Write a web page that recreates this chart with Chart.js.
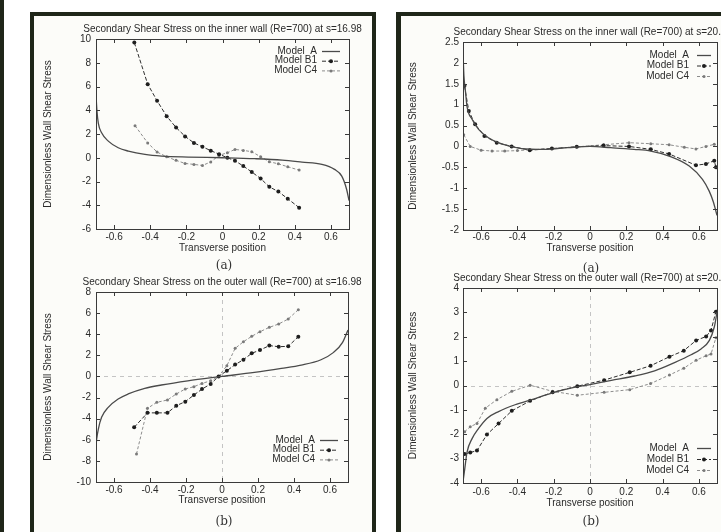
<!DOCTYPE html>
<html>
<head>
<meta charset="utf-8">
<title>Secondary Shear Stress</title>
<script src="https://cdn.jsdelivr.net/npm/chart.js@4.4.0/dist/chart.umd.min.js"></script>
<style>
  body { margin: 0; width: 721px; height: 532px; position: relative; overflow: hidden; background: #fff;
         font-family: "Liberation Sans", Arial, sans-serif; }
  .bar { position: absolute; background: #1f2619; }
  .panel { position: absolute; background: #fcfcf9; }
  canvas { position: absolute; }
  .cap { position: absolute; transform: translate(-50%, -50%); font-family: "DejaVu Serif", "Liberation Serif", serif;
         font-size: 12px; color: #333; }
</style>
</head>
<body>
<div class="panel" style="left:34px;top:16px;width:338px;height:516px"></div>
<div class="panel" style="left:401px;top:16px;width:320px;height:516px"></div>
<div class="bar" style="left:0;top:0;width:4px;height:532px"></div>
<div class="bar" style="left:30px;top:12px;width:4px;height:520px"></div>
<div class="bar" style="left:30px;top:12px;width:346px;height:4px"></div>
<div class="bar" style="left:372px;top:12px;width:4px;height:520px"></div>
<div class="bar" style="left:396px;top:12px;width:5px;height:520px"></div>
<div class="bar" style="left:396px;top:12px;width:325px;height:4px"></div>

<canvas id="chartIn16" width="334" height="240" style="left:36px;top:18px"></canvas>
<canvas id="chartOut16" width="334" height="240" style="left:36px;top:271px"></canvas>
<canvas id="chartIn20" width="319" height="240" style="left:402px;top:18px"></canvas>
<canvas id="chartOut20" width="319" height="244" style="left:402px;top:266px"></canvas>

<div class="cap" style="left:224px;top:265px">(a)</div>
<div class="cap" style="left:224px;top:521px">(b)</div>
<div class="cap" style="left:591px;top:268px">(a)</div>
<div class="cap" style="left:591px;top:521px">(b)</div>

<script>
// --- Datos ---
const xTicks = [-0.6, -0.4, -0.2, 0, 0.2, 0.4, 0.6];

// inner wall, s=16.98
const in16Ticks = [-6, -4, -2, 0, 2, 4, 6, 8, 10];
const in16Ax = [-0.700, -0.695, -0.687, -0.669, -0.632, -0.577, -0.521, -0.429, -0.337, -0.19, 0, 0.18, 0.33, 0.44, 0.55, 0.62, 0.66, 0.687, 0.700];
const in16Ay = [5.3, 4.0, 2.9, 2.1, 1.4, 0.84, 0.56, 0.28, 0.14, 0.06, 0, -0.08, -0.2, -0.37, -0.56, -0.98, -1.55, -2.67, -3.6];
const in16Bx = [-0.488, -0.414, -0.362, -0.309, -0.257, -0.207, -0.158, -0.111, -0.065, -0.019, 0.027, 0.069, 0.115, 0.162, 0.211, 0.259, 0.309, 0.361, 0.424];
const in16By = [9.7, 6.2, 4.8, 3.5, 2.55, 1.8, 1.25, 0.92, 0.6, 0.3, 0.0, -0.25, -0.7, -1.2, -1.75, -2.45, -2.85, -3.45, -4.2];
const in16Cx = [-0.484, -0.414, -0.362, -0.309, -0.257, -0.207, -0.158, -0.111, -0.065, -0.019, 0.027, 0.069, 0.115, 0.162, 0.211, 0.259, 0.309, 0.361, 0.424];
const in16Cy = [2.7, 1.25, 0.48, 0.08, -0.22, -0.48, -0.56, -0.65, -0.35, 0.2, 0.42, 0.7, 0.62, 0.51, 0.08, -0.34, -0.51, -0.76, -1.04];

// outer wall, s=16.98
const out16Ticks = [-10, -8, -6, -4, -2, 0, 2, 4, 6, 8];
const out16Ax = [-0.700, -0.696, -0.687, -0.669, -0.632, -0.577, -0.521, -0.429, -0.337, -0.19, 0, 0.18, 0.33, 0.44, 0.55, 0.62, 0.669, 0.700];
const out16Ay = [-6.6, -5.9, -4.98, -3.87, -2.93, -2.14, -1.66, -1.13, -0.81, -0.41, 0, 0.38, 0.76, 1.07, 1.58, 2.28, 3.2, 4.4];
const out16Bx = [-0.488, -0.414, -0.362, -0.303, -0.254, -0.204, -0.156, -0.111, -0.063, -0.019, 0.027, 0.073, 0.119, 0.165, 0.211, 0.263, 0.315, 0.368, 0.424];
const out16By = [-4.82, -3.45, -3.45, -3.45, -2.77, -2.39, -1.76, -1.2, -0.71, 0, 0.54, 1.12, 1.59, 2.19, 2.5, 2.92, 2.82, 2.85, 3.77];
const out16Cx = [-0.475, -0.414, -0.362, -0.303, -0.254, -0.204, -0.156, -0.111, -0.063, -0.019, 0.027, 0.073, 0.119, 0.165, 0.211, 0.263, 0.315, 0.368, 0.424];
const out16Cy = [-7.35, -3.02, -2.45, -2.23, -1.66, -1.19, -0.97, -0.66, -0.41, 0, 1.02, 2.66, 3.29, 3.8, 4.24, 4.65, 4.97, 5.44, 6.33];

// inner wall, s=20.4
const in20Ticks = [-2, -1.5, -1, -0.5, 0, 0.5, 1, 1.5, 2, 2.5];
const in20Ax = [-0.700, -0.695, -0.686, -0.678, -0.65, -0.614, -0.56, -0.487, -0.377, -0.25, -0.122, 0, 0.115, 0.243, 0.335, 0.436, 0.547, 0.62, 0.657, 0.68, 0.700];
const in20Ay = [2.25, 1.7, 1.3, 0.96, 0.65, 0.41, 0.21, 0.06, -0.05, -0.07, -0.03, 0, -0.03, -0.07, -0.11, -0.23, -0.47, -0.79, -1.07, -1.33, -1.65];
const in20Bx = [-0.692, -0.668, -0.633, -0.582, -0.514, -0.432, -0.332, -0.21, -0.073, 0.075, 0.215, 0.335, 0.436, 0.584, 0.639, 0.685, 0.694];
const in20By = [1.45, 0.85, 0.53, 0.25, 0.09, 0.0, -0.09, -0.05, -0.01, 0.02, 0.0, -0.07, -0.18, -0.45, -0.42, -0.34, -0.5];
const in20Cx = [-0.696, -0.66, -0.6, -0.54, -0.47, -0.4, -0.332, -0.21, -0.073, 0.075, 0.215, 0.335, 0.436, 0.52, 0.584, 0.639, 0.685];
const in20Cy = [0.28, 0.0, -0.09, -0.11, -0.11, -0.1, -0.08, -0.05, -0.01, 0.04, 0.09, 0.065, 0.04, -0.02, -0.06, 0.0, 0.05];

// outer wall, s=20.4
const out20Ticks = [-4, -3, -2, -1, 0, 1, 2, 3, 4];
const out20Ax = [-0.700, -0.69, -0.678, -0.65, -0.614, -0.568, -0.504, -0.413, -0.321, -0.211, -0.1, 0, 0.118, 0.246, 0.356, 0.466, 0.557, 0.612, 0.658, 0.685, 0.700];
const out20Ay = [-3.95, -3.4, -2.74, -2.18, -1.76, -1.35, -1.07, -0.79, -0.58, -0.31, -0.1, 0.04, 0.21, 0.39, 0.6, 0.94, 1.26, 1.5, 1.85, 2.4, 3.0];
const out20Bx = [-0.691, -0.66, -0.623, -0.568, -0.504, -0.431, -0.33, -0.206, -0.07, 0.078, 0.219, 0.334, 0.438, 0.517, 0.585, 0.64, 0.667, 0.694];
const out20By = [-2.81, -2.75, -2.67, -2.01, -1.56, -1.04, -0.63, -0.28, -0.03, 0.22, 0.54, 0.81, 1.18, 1.43, 1.85, 2.01, 2.26, 3.03];
const out20Cx = [-0.691, -0.66, -0.623, -0.577, -0.513, -0.431, -0.33, -0.206, -0.07, 0.078, 0.219, 0.334, 0.438, 0.517, 0.585, 0.64, 0.667, 0.694];
const out20Cy = [-1.9, -1.69, -1.56, -0.93, -0.58, -0.24, 0.01, -0.24, -0.4, -0.28, -0.17, 0.08, 0.43, 0.71, 1.04, 1.22, 1.29, 1.96];

// --- Estilos ---
const TXT = '#2a2a2a';
const FONT = { family: '"Liberation Sans", Arial, sans-serif', size: 10 };
const COL_A = '#4a4a4a';
const COL_B = '#2e2e2e';
const COL_C = '#8c8c8c';

function pts(xs, ys) {
    return xs.map((x, i) => ({ x: x, y: ys[i] }));
}

// caja estilo gnuplot: borde, ticks hacia adentro, ejes cero, leyenda y titulo
const gnuplotBox = {
    id: 'gnuplotBox',
    beforeDatasetsDraw(chart, args, opts) {
        if (!opts.zeroAxes) return;
        const { ctx, chartArea: a, scales: { x, y } } = chart;
        ctx.save();
        ctx.strokeStyle = '#c4c4c4';
        ctx.lineWidth = 1;
        ctx.setLineDash([4, 4]);
        const y0 = Math.round(y.getPixelForValue(0)) + 0.5;
        const x0 = Math.round(x.getPixelForValue(0)) + 0.5;
        ctx.beginPath();
        ctx.moveTo(a.left, y0); ctx.lineTo(a.right, y0);
        ctx.moveTo(x0, a.top); ctx.lineTo(x0, a.bottom);
        ctx.stroke();
        ctx.restore();
    },
    afterDatasetsDraw(chart) {
        const { ctx, chartArea: a, scales: { x, y } } = chart;
        ctx.save();
        ctx.strokeStyle = '#3a3a3a';
        ctx.lineWidth = 1;
        ctx.strokeRect(Math.round(a.left) + 0.5, Math.round(a.top) + 0.5,
                       Math.round(a.right - a.left), Math.round(a.bottom - a.top));
        ctx.beginPath();
        x.ticks.forEach(t => {
            const px = Math.round(x.getPixelForValue(t.value)) + 0.5;
            ctx.moveTo(px, a.bottom); ctx.lineTo(px, a.bottom - 4);
            ctx.moveTo(px, a.top); ctx.lineTo(px, a.top + 4);
        });
        y.ticks.forEach(t => {
            const py = Math.round(y.getPixelForValue(t.value)) + 0.5;
            ctx.moveTo(a.left, py); ctx.lineTo(a.left + 4, py);
            ctx.moveTo(a.right, py); ctx.lineTo(a.right - 4, py);
        });
        ctx.stroke();
        ctx.restore();
    },
    afterDraw(chart, args, opts) {
        const { ctx, chartArea: a } = chart;
        ctx.save();
        ctx.font = '10px "Liberation Sans", Arial, sans-serif';
        ctx.fillStyle = TXT;
        ctx.textBaseline = 'middle';

        // titulo
        ctx.textAlign = 'center';
        ctx.fillText(opts.title, (a.left + a.right) / 2, a.top - 10);

        // leyenda
        const lg = opts.legend;
        chart.data.datasets.forEach((ds, i) => {
            const yRow = lg.anchor === 'top' ? a.top + lg.first + i * lg.gap
                                             : a.bottom - lg.first + i * lg.gap;
            ctx.textAlign = 'right';
            ctx.fillStyle = TXT;
            ctx.fillText(ds.label, a.right - lg.textRight, yRow);
            const x1 = a.right - lg.sampleStart, x2 = a.right - lg.sampleEnd;
            ctx.strokeStyle = ds.borderColor;
            ctx.lineWidth = ds.borderWidth;
            ctx.setLineDash(ds.borderDash || []);
            ctx.beginPath();
            ctx.moveTo(x1, yRow + 0.5); ctx.lineTo(x2, yRow + 0.5);
            ctx.stroke();
            ctx.setLineDash([]);
            if (ds.pointRadius > 0) {
                ctx.fillStyle = ds.pointBackgroundColor;
                ctx.beginPath();
                ctx.arc((x1 + x2) / 2, yRow + 0.5, ds.pointRadius, 0, Math.PI * 2);
                ctx.fill();
            }
        });
        ctx.restore();
    }
};

function crearGrafico(canvasId, spec) {
    const ctx = document.getElementById(canvasId);
    const b = spec.box;
    return new Chart(ctx, {
        type: 'line',
        data: {
            datasets: [{
                label: 'Model  A',
                data: pts(spec.ax, spec.ay),
                borderColor: COL_A,
                borderWidth: 1.3,
                pointRadius: 0,
                cubicInterpolationMode: 'monotone'
            }, {
                label: 'Model B1',
                data: pts(spec.bx, spec.by),
                borderColor: COL_B,
                borderWidth: 1,
                borderDash: [4, 2],
                pointRadius: 2,
                pointBackgroundColor: '#1e1e1e',
                pointBorderWidth: 0
            }, {
                label: 'Model C4',
                data: pts(spec.cx, spec.cy),
                borderColor: COL_C,
                borderWidth: 1,
                borderDash: [3, 2],
                pointRadius: 1.5,
                pointBackgroundColor: '#7a7a7a',
                pointBorderWidth: 0
            }]
        },
        options: {
            responsive: false,
            animation: false,
            layout: { padding: { left: 0, top: b.top, right: b.right, bottom: 0 } },
            scales: {
                x: {
                    type: 'linear',
                    min: -0.7,
                    max: 0.7,
                    afterBuildTicks: s => { s.ticks = xTicks.map(v => ({ value: v })); },
                    afterFit: s => { s.height = b.xH; },
                    grid: { display: false, drawTicks: false },
                    border: { display: false },
                    ticks: { padding: b.xTickPad, color: TXT, font: FONT, maxRotation: 0, callback: v => String(v) },
                    title: { display: true, text: 'Transverse position', color: TXT, font: FONT,
                             padding: { top: 0, bottom: b.xTitlePad } }
                },
                y: {
                    type: 'linear',
                    min: spec.yTicks[0],
                    max: spec.yTicks[spec.yTicks.length - 1],
                    afterBuildTicks: s => { s.ticks = spec.yTicks.map(v => ({ value: v })); },
                    afterFit: s => { s.width = b.yW; },
                    grid: { display: false, drawTicks: false },
                    border: { display: false },
                    ticks: { padding: b.yTickPad, color: TXT, font: FONT, callback: v => String(v) },
                    title: { display: true, text: 'Dimensionless Wall Shear Stress', color: TXT, font: FONT,
                             padding: { top: b.yTitlePad, bottom: 0 } }
                }
            },
            plugins: {
                legend: { display: false },
                tooltip: { enabled: false },
                gnuplotBox: { title: spec.title, legend: spec.legend, zeroAxes: spec.zeroAxes }
            }
        },
        plugins: [gnuplotBox]
    });
}

crearGrafico('chartIn16', {
    title: 'Secondary Shear Stress on the inner wall (Re=700) at s=16.98',
    ax: in16Ax, ay: in16Ay, bx: in16Bx, by: in16By, cx: in16Cx, cy: in16Cy,
    yTicks: in16Ticks, zeroAxes: false,
    box: { top: 21, right: 21, yW: 60, xH: 29, xTickPad: 2, xTitlePad: 4, yTickPad: 5, yTitlePad: 6 },
    legend: { anchor: 'top', first: 12, gap: 9.7, textRight: 32, sampleStart: 27, sampleEnd: 9 }
});

crearGrafico('chartOut16', {
    title: 'Secondary Shear Stress on the outer wall (Re=700) at s=16.98',
    ax: out16Ax, ay: out16Ay, bx: out16Bx, by: out16By, cx: out16Cx, cy: out16Cy,
    yTicks: out16Ticks, zeroAxes: true,
    box: { top: 21, right: 22, yW: 60, xH: 29, xTickPad: 2, xTitlePad: 5, yTickPad: 5, yTitlePad: 6 },
    legend: { anchor: 'bottom', first: 42, gap: 9.7, textRight: 33, sampleStart: 28, sampleEnd: 10 }
});

crearGrafico('chartIn20', {
    title: 'Secondary Shear Stress on the inner wall (Re=700) at s=20.4',
    ax: in20Ax, ay: in20Ay, bx: in20Bx, by: in20By, cx: in20Cx, cy: in20Cy,
    yTicks: in20Ticks, zeroAxes: false,
    box: { top: 24, right: 3, yW: 61, xH: 28, xTickPad: 1, xTitlePad: 4, yTickPad: 4, yTitlePad: 5 },
    legend: { anchor: 'top', first: 13, gap: 10.5, textRight: 28, sampleStart: 20, sampleEnd: 6 }
});

crearGrafico('chartOut20', {
    title: 'Secondary Shear Stress on the outer wall (Re=700) at s=20.4',
    ax: out20Ax, ay: out20Ay, bx: out20Bx, by: out20By, cx: out20Cx, cy: out20Cy,
    yTicks: out20Ticks, zeroAxes: true,
    box: { top: 22, right: 3, yW: 61, xH: 27, xTickPad: 3, xTitlePad: 1, yTickPad: 4, yTitlePad: 5 },
    legend: { anchor: 'bottom', first: 35, gap: 11, textRight: 28, sampleStart: 20, sampleEnd: 6 }
});
</script>
</body>
</html>
